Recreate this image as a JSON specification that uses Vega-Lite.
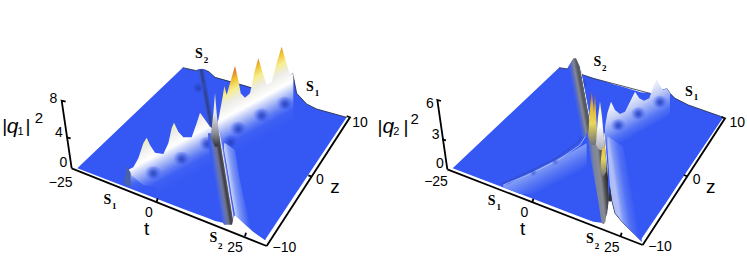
{"$schema":"https://vega.github.io/schema/vega-lite/v6.json","padding":0,"autosize":{"type":"pad"},"spacing":0,"background":"white","config":{"view":{"stroke":null}},"hconcat":[
{"width":370,"height":260,
"encoding":{"x":{"field":"x","type":"quantitative","scale":{"domain":[0,1110]},"axis":null},"y":{"field":"y","type":"quantitative","scale":{"domain":[690,-90]},"axis":null}},
"layer":[
{"data":{"values":[{"x":232,"y":415,"y2":415},{"x":548,"y":113,"y2":536},{"x":590,"y":122,"y2":552},{"x":605,"y":118,"y2":557},{"x":625,"y":124,"y2":565},{"x":645,"y":142,"y2":573},{"x":690,"y":154,"y2":583},{"x":705,"y":158,"y2":555},{"x":730,"y":165,"y2":578},{"x":760,"y":175,"y2":605},{"x":795,"y":187,"y2":630},{"x":878,"y":130,"y2":505},{"x":890,"y":190,"y2":487},{"x":920,"y":222,"y2":442},{"x":950,"y":237,"y2":397},{"x":1040,"y":262,"y2":262}]},"mark":{"type":"area","color":"#3558f4"},"encoding":{"y2":{"field":"y2"}}},
{"data":{"values":[{"p":"a","x":548,"y":113},{"p":"a","x":590,"y":122},{"p":"a","x":605,"y":118},{"p":"a","x":625,"y":124},{"p":"a","x":645,"y":142},{"p":"a","x":760,"y":175},{"p":"b","x":878,"y":130},{"p":"b","x":890,"y":190},{"p":"b","x":920,"y":222},{"p":"b","x":950,"y":237},{"p":"b","x":1040,"y":262}]},"mark":{"type":"line","color":"#22283a","strokeWidth":0.8},"encoding":{"detail":{"field":"p"}}},
{"data":{"values":[{"y":118,"x":592,"x2":616},{"y":200,"x":606,"x2":631},{"y":290,"x":623,"x2":647},{"y":325,"x":629,"x2":653}]},"mark":{"type":"area","orient":"horizontal","color":{"gradient":"linear","x1":0.2565,"y1":0.5,"x2":0.545,"y2":0.321,"stops":[{"offset":0,"color":"#3558f4"},{"offset":0.3,"color":"#3a56d4"},{"offset":0.55,"color":"#2b3f90"},{"offset":0.75,"color":"#2f4aa8"},{"offset":1,"color":"#3558f4"}]}},"encoding":{"x2":{"field":"x2"}}},
{"data":{"values":[{"x":378,"y":432,"y2":462},{"x":388,"y":418,"y2":468},{"x":400,"y":412,"y2":476},{"x":415,"y":385,"y2":482},{"x":430,"y":340,"y2":488},{"x":440,"y":323,"y2":490},{"x":450,"y":345,"y2":493},{"x":465,"y":368,"y2":495},{"x":490,"y":372,"y2":482},{"x":505,"y":340,"y2":474},{"x":515,"y":295,"y2":469},{"x":522,"y":278,"y2":465},{"x":535,"y":305,"y2":458},{"x":550,"y":322,"y2":451},{"x":575,"y":322,"y2":437},{"x":590,"y":280,"y2":429},{"x":600,"y":248,"y2":424},{"x":612,"y":265,"y2":418},{"x":630,"y":290,"y2":408},{"x":645,"y":300,"y2":400},{"x":655,"y":270,"y2":395},{"x":668,"y":200,"y2":388},{"x":673,"y":168,"y2":386},{"x":680,"y":195,"y2":382},{"x":690,"y":160,"y2":377},{"x":705,"y":108,"y2":369},{"x":715,"y":150,"y2":364},{"x":722,"y":190,"y2":360},{"x":735,"y":203,"y2":353},{"x":750,"y":190,"y2":345},{"x":765,"y":120,"y2":337},{"x":775,"y":85,"y2":332},{"x":787,"y":125,"y2":326},{"x":800,"y":165,"y2":319},{"x":815,"y":155,"y2":311},{"x":830,"y":100,"y2":303},{"x":845,"y":50,"y2":295},{"x":858,"y":95,"y2":288},{"x":870,"y":135,"y2":282},{"x":880,"y":130,"y2":277}]},"mark":{"type":"area","color":{"gradient":"linear","x1":0.5,"y1":0.1948,"x2":0.7708,"y2":0.6394,"stops":[{"offset":0,"color":"#b8402a"},{"offset":0.074,"color":"#e0702a"},{"offset":0.185,"color":"#f0c030"},{"offset":0.296,"color":"#f6ee90"},{"offset":0.407,"color":"#ecebe6"},{"offset":0.56,"color":"#ffffff"},{"offset":0.685,"color":"#a8b8f6"},{"offset":0.796,"color":"#5f7cf4"},{"offset":0.87,"color":"#3f60f4"},{"offset":1,"color":"#3558f4"}]}},"encoding":{"y2":{"field":"y2"}}},
{"data":{"values":[{"x":378,"y":420,"y2":463},{"x":400,"y":440,"y2":477},{"x":430,"y":465,"y2":490},{"x":470,"y":470,"y2":500}]},"mark":{"type":"area","color":{"gradient":"linear","x1":0,"y1":0,"x2":0,"y2":1,"stops":[{"offset":0,"color":"rgba(53,88,244,0)"},{"offset":0.5,"color":"rgba(53,88,244,0.8)"},{"offset":1,"color":"#3558f4"}]}},"encoding":{"y2":{"field":"y2"}}},
{"data":{"values":[{"x":372,"y":462,"y2":462},{"x":380,"y":408,"y2":465},{"x":392,"y":428,"y2":470}]},"mark":{"type":"area","color":"#4a62a8"},"encoding":{"y2":{"field":"y2"}}},
{"data":{"values":[{"x":460,"y":428},{"x":545,"y":385},{"x":622,"y":340},{"x":715,"y":295},{"x":785,"y":255},{"x":855,"y":220},{"x":595,"y":172},{"x":682,"y":397},{"x":705,"y":505},{"x":692,"y":335}]},"mark":{"type":"point","filled":true,"opacity":1,"size":300,"shape":"M-1,0A1,.75 0 1,0 1,0A1,.75 0 1,0 -1,0Z","color":{"gradient":"radial","x1":0.5,"y1":0.55,"r1":0,"x2":0.5,"y2":0.5,"r2":0.5,"stops":[{"offset":0,"color":"rgba(36,62,180,0.9)"},{"offset":0.35,"color":"rgba(44,72,205,0.7)"},{"offset":0.7,"color":"rgba(53,88,244,0.3)"},{"offset":1,"color":"rgba(53,88,244,0)"}]}}},
{"data":{"values":[{"y":340,"x":672,"x2":676},{"y":360,"x":672,"x2":705},{"y":440,"x":686,"x2":718},{"y":500,"x":695,"x2":730},{"y":555,"x":705,"x2":745},{"y":578,"x":730,"x2":760},{"y":605,"x":760,"x2":780},{"y":630,"x":795,"x2":797}]},"mark":{"type":"area","orient":"horizontal","color":{"gradient":"linear","x1":0.1836,"y1":0.5,"x2":0.4656,"y2":0.3965,"stops":[{"offset":0,"color":"#c0ccf8"},{"offset":0.3,"color":"#809af6"},{"offset":1,"color":"#3558f4"}]}},"encoding":{"x2":{"field":"x2"}}},
{"data":{"values":[{"y":310,"x":624,"x2":662},{"y":345,"x":626,"x2":668},{"y":430,"x":640,"x2":682},{"y":510,"x":652,"x2":694},{"y":560,"x":660,"x2":702},{"y":584,"x":672,"x2":696}]},"mark":{"type":"area","orient":"horizontal","color":{"gradient":"linear","x1":0.252,"y1":0.5,"x2":0.638,"y2":0.2788,"stops":[{"offset":0,"color":"#3558f4"},{"offset":0.3,"color":"#5c70c8"},{"offset":0.5,"color":"#70748c"},{"offset":0.72,"color":"#3c3d48"},{"offset":0.85,"color":"#55565f"},{"offset":0.92,"color":"#e8e8ee"},{"offset":1,"color":"#7088f0"}]}},"encoding":{"x2":{"field":"x2"}}},
{"data":{"values":[{"x":632,"y":320,"y2":320},{"x":640,"y":250,"y2":340},{"x":645,"y":188,"y2":350},{"x":650,"y":250,"y2":350},{"x":658,"y":320,"y2":345}]},"mark":{"type":"area","color":{"gradient":"linear","x1":0,"y1":0,"x2":0,"y2":1,"stops":[{"offset":0,"color":"#e8e4a8"},{"offset":0.4,"color":"#e8e8e8"},{"offset":0.75,"color":"#8a8c98"},{"offset":1,"color":"#30323c"}]}},"encoding":{"y2":{"field":"y2"}}},
{"data":{"values":[{"p":"z","x":215,"y":415},{"p":"z","x":185,"y":212},{"p":"z","x":197,"y":215},{"p":"m","x":200,"y":322},{"p":"m","x":212,"y":325},{"p":"t","x":215,"y":415},{"p":"t","x":800,"y":648},{"p":"r","x":800,"y":648},{"p":"r","x":1050,"y":262},{"p":"r","x":1040,"y":258},{"p":"a","x":470,"y":516},{"p":"a","x":473,"y":505},{"p":"b","x":735,"y":619},{"p":"b","x":738,"y":608},{"p":"c","x":935,"y":440},{"p":"c","x":925,"y":436}]},"mark":{"type":"line","color":"#000000","strokeWidth":1.8},"encoding":{"detail":{"field":"p"},"order":{"field":"o"}}},
{"data":{"values":[{"x":160,"y":208,"s":"8"},{"x":177,"y":310,"s":"4"},{"x":190,"y":400,"s":"0"},{"x":182,"y":458,"s":"−25"},{"x":447,"y":550,"s":"0"},{"x":705,"y":655,"s":"25"},{"x":853,"y":655,"s":"−10"},{"x":960,"y":450,"s":"0"},{"x":1080,"y":280,"s":"10"}]},"mark":{"type":"text","font":"Liberation Sans","fontSize":14,"color":"#000"},"encoding":{"text":{"field":"s"}}},
{"data":{"values":[{"x":117,"y":265,"s":"2"}]},"mark":{"type":"text","font":"Liberation Sans","fontSize":15,"color":"#000"},"encoding":{"text":{"field":"s"}}},
{"data":{"values":[{"x":440,"y":598,"s":"t"},{"x":1005,"y":472,"s":"z"},{"x":14,"y":287,"s":"|"},{"x":84,"y":287,"s":"|"}]},"mark":{"type":"text","font":"Liberation Sans","fontSize":19,"color":"#000"},"encoding":{"text":{"field":"s"}}},
{"data":{"values":[{"x":38,"y":290,"s":"q"}]},"mark":{"type":"text","font":"Liberation Sans","fontStyle":"italic","fontSize":21,"color":"#000"},"encoding":{"text":{"field":"s"}}},
{"data":{"values":[{"x":62,"y":305,"s":"1"}]},"mark":{"type":"text","font":"Liberation Sans","fontSize":11,"color":"#000"},"encoding":{"text":{"field":"s"}}},
{"data":{"values":[{"x":322,"y":510,"s":"S"},{"x":597,"y":73,"s":"S"},{"x":930,"y":172,"s":"S"},{"x":640,"y":625,"s":"S"}]},"mark":{"type":"text","font":"Liberation Serif","fontWeight":"bold","fontSize":14,"color":"#000"},"encoding":{"text":{"field":"s"}}},
{"data":{"values":[{"x":343,"y":527,"s":"1"},{"x":618,"y":90,"s":"2"},{"x":951,"y":189,"s":"1"},{"x":661,"y":648,"s":"2"}]},"mark":{"type":"text","font":"Liberation Serif","fontWeight":"bold","fontSize":9,"color":"#000"},"encoding":{"text":{"field":"s"}}}
]},
{"width":377,"height":260,
"encoding":{"x":{"field":"x","type":"quantitative","scale":{"domain":[0,1131]},"axis":null},"y":{"field":"y","type":"quantitative","scale":{"domain":[690,-90]},"axis":null}},
"layer":[
{"data":{"values":[{"x":248,"y":415,"y2":415},{"x":567,"y":113,"y2":536},{"x":600,"y":118,"y2":549},{"x":640,"y":135,"y2":564},{"x":670,"y":145,"y2":575},{"x":699,"y":153,"y2":579},{"x":710,"y":156,"y2":550},{"x":715,"y":158,"y2":510},{"x":720,"y":159,"y2":470},{"x":725,"y":161,"y2":510},{"x":735,"y":164,"y2":550},{"x":760,"y":171,"y2":580},{"x":812,"y":187,"y2":630},{"x":840,"y":190,"y2":589},{"x":890,"y":175,"y2":515},{"x":900,"y":190,"y2":500},{"x":915,"y":205,"y2":477},{"x":955,"y":225,"y2":418},{"x":1060,"y":262,"y2":262}]},"mark":{"type":"area","color":"#3558f4"},"encoding":{"y2":{"field":"y2"}}},
{"data":{"values":[{"p":"a","x":567,"y":113},{"p":"a","x":600,"y":118},{"p":"a","x":640,"y":135},{"p":"a","x":670,"y":145},{"p":"a","x":840,"y":190},{"p":"b","x":890,"y":175},{"p":"b","x":900,"y":190},{"p":"b","x":915,"y":205},{"p":"b","x":955,"y":225},{"p":"b","x":1060,"y":262},{"p":"c","x":699,"y":579},{"p":"c","x":710,"y":550},{"p":"c","x":715,"y":510},{"p":"c","x":720,"y":470},{"p":"c","x":725,"y":510},{"p":"c","x":735,"y":550},{"p":"c","x":760,"y":580},{"p":"c","x":812,"y":630}]},"mark":{"type":"line","color":"#22283a","strokeWidth":0.8},"encoding":{"detail":{"field":"p"}}},
{"data":{"values":[{"x":400,"y":465,"y2":472},{"x":415,"y":462,"y2":478},{"x":450,"y":445,"y2":492},{"x":500,"y":420,"y2":492},{"x":550,"y":394,"y2":465},{"x":600,"y":368,"y2":440},{"x":650,"y":340,"y2":412}]},"mark":{"type":"area","color":{"gradient":"linear","x1":0.5,"y1":0.446,"x2":0.7275,"y2":0.712,"stops":[{"offset":0,"color":"#7f9af6"},{"offset":0.5,"color":"#5676f4"},{"offset":1,"color":"#3558f4"}]}},"encoding":{"y2":{"field":"y2"}}},
{"data":{"values":[{"p":"a","x":395,"y":462},{"p":"a","x":470,"y":428},{"p":"a","x":560,"y":383},{"p":"a","x":625,"y":335},{"p":"a","x":648,"y":300}]},"mark":{"type":"line","color":"#3450c0","strokeWidth":1.2},"encoding":{"detail":{"field":"p"}}},
{"data":{"values":[{"p":"a","x":400,"y":465},{"p":"a","x":470,"y":436},{"p":"a","x":560,"y":393},{"p":"a","x":630,"y":345},{"p":"a","x":652,"y":310}]},"mark":{"type":"line","color":"#b8c4f4","strokeWidth":0.8},"encoding":{"detail":{"field":"p"}}},
{"data":{"values":[{"x":705,"y":290,"y2":367},{"x":712,"y":250,"y2":363},{"x":723,"y":215,"y2":357},{"x":735,"y":240,"y2":351},{"x":750,"y":252,"y2":342},{"x":765,"y":245,"y2":334},{"x":780,"y":215,"y2":325},{"x":795,"y":185,"y2":317},{"x":808,"y":205,"y2":310},{"x":822,"y":212,"y2":302},{"x":838,"y":205,"y2":293},{"x":850,"y":170,"y2":286},{"x":860,"y":148,"y2":281},{"x":872,"y":170,"y2":274},{"x":880,"y":180,"y2":269},{"x":890,"y":175,"y2":264},{"x":900,"y":190,"y2":258}]},"mark":{"type":"area","color":{"gradient":"linear","x1":0.5,"y1":0.0676,"x2":0.7735,"y2":0.6162,"stops":[{"offset":0,"color":"#f6f7fc"},{"offset":0.2,"color":"#e8ecfa"},{"offset":0.4,"color":"#c4cff7"},{"offset":0.6,"color":"#8ea3f6"},{"offset":0.8,"color":"#5575f4"},{"offset":1,"color":"#3558f4"}]}},"encoding":{"y2":{"field":"y2"}}},
{"data":{"values":[{"x":745,"y":285},{"x":805,"y":250},{"x":870,"y":215},{"x":638,"y":160}]},"mark":{"type":"point","filled":true,"opacity":1,"size":240,"shape":"M-1,0A1,.75 0 1,0 1,0A1,.75 0 1,0 -1,0Z","color":{"gradient":"radial","x1":0.5,"y1":0.55,"r1":0,"x2":0.5,"y2":0.5,"r2":0.5,"stops":[{"offset":0,"color":"rgba(36,62,180,0.9)"},{"offset":0.35,"color":"rgba(44,72,205,0.7)"},{"offset":0.7,"color":"rgba(53,88,244,0.3)"},{"offset":1,"color":"rgba(53,88,244,0)"}]}}},
{"data":{"values":[{"x":490,"y":428},{"x":555,"y":395}]},"mark":{"type":"point","filled":true,"opacity":1,"size":70,"shape":"M-1,0A1,.75 0 1,0 1,0A1,.75 0 1,0 -1,0Z","color":{"gradient":"radial","x1":0.5,"y1":0.5,"r1":0,"x2":0.5,"y2":0.5,"r2":0.5,"stops":[{"offset":0,"color":"rgba(36,62,180,0.6)"},{"offset":1,"color":"rgba(53,88,244,0)"}]}}},
{"data":{"values":[{"y":320,"x":712,"x2":716},{"y":350,"x":712,"x2":760},{"y":470,"x":720,"x2":782},{"y":510,"x":726,"x2":790},{"y":550,"x":736,"x2":800},{"y":580,"x":760,"x2":808},{"y":635,"x":815,"x2":816}]},"mark":{"type":"area","orient":"horizontal","color":{"gradient":"linear","x1":0.235,"y1":0.5,"x2":0.631,"y2":0.314,"stops":[{"offset":0,"color":"#b0bef8"},{"offset":0.2,"color":"#7f98f6"},{"offset":0.55,"color":"#5170f4"},{"offset":1,"color":"#3558f4"}]}},"encoding":{"x2":{"field":"x2"}}},
{"data":{"values":[{"y":85,"x":610,"x2":618},{"y":115,"x":592,"x2":632},{"y":160,"x":600,"x2":641},{"y":240,"x":615,"x2":657},{"y":320,"x":631,"x2":673}]},"mark":{"type":"area","orient":"horizontal","color":{"gradient":"linear","x1":0.2547,"y1":0.5,"x2":0.6352,"y2":0.2974,"stops":[{"offset":0,"color":"#3558f4"},{"offset":0.24,"color":"#5a6cc0"},{"offset":0.43,"color":"#858894"},{"offset":0.67,"color":"#54565f"},{"offset":0.83,"color":"#60626a"},{"offset":0.88,"color":"#eeeeee"},{"offset":0.93,"color":"#6f86e6"},{"offset":1,"color":"#3558f4"}]}},"encoding":{"x2":{"field":"x2"}}},
{"data":{"values":[{"y":310,"x":648,"x2":705},{"y":350,"x":655,"x2":708},{"y":430,"x":670,"x2":714},{"y":520,"x":686,"x2":714},{"y":575,"x":694,"x2":706},{"y":582,"x":698,"x2":702}]},"mark":{"type":"area","orient":"horizontal","color":{"gradient":"linear","x1":0.2356,"y1":0.5,"x2":0.9396,"y2":0.181,"stops":[{"offset":0,"color":"#3558f4"},{"offset":0.25,"color":"#7b84a0"},{"offset":0.5,"color":"#8a8c90"},{"offset":0.72,"color":"#45464e"},{"offset":0.88,"color":"#2a2b30"},{"offset":0.95,"color":"#eeeeee"},{"offset":1,"color":"#8098f0"}]}},"encoding":{"x2":{"field":"x2"}}},
{"data":{"values":[{"p":"a","x":655,"y":310,"y2":320},{"p":"a","x":660,"y":235,"y2":335},{"p":"a","x":665,"y":183,"y2":345},{"p":"a","x":671,"y":235,"y2":345},{"p":"a","x":676,"y":320,"y2":345},{"p":"b","x":669,"y":300,"y2":320},{"p":"b","x":675,"y":190,"y2":340},{"p":"b","x":682,"y":320,"y2":340},{"p":"c","x":692,"y":400,"y2":430},{"p":"c","x":700,"y":303,"y2":440},{"p":"c","x":709,"y":400,"y2":425}]},"mark":{"type":"area","color":{"gradient":"linear","x1":0,"y1":0,"x2":0,"y2":1,"stops":[{"offset":0,"color":"#b8482a"},{"offset":0.25,"color":"#e0b030"},{"offset":0.6,"color":"#e8d858"},{"offset":1,"color":"#70727a"}]}},"encoding":{"y2":{"field":"y2"},"detail":{"field":"p"}}},
{"data":{"values":[{"x":678,"y":340,"y2":345},{"x":684,"y":260,"y2":355},{"x":690,"y":215,"y2":360},{"x":696,"y":260,"y2":360},{"x":703,"y":340,"y2":345}]},"mark":{"type":"area","color":{"gradient":"linear","x1":0,"y1":0,"x2":0,"y2":1,"stops":[{"offset":0,"color":"#f6f2b8"},{"offset":0.5,"color":"#ffffff"},{"offset":1,"color":"#a8aab8"}]}},"encoding":{"y2":{"field":"y2"}}},
{"data":{"values":[{"x":715,"y":512,"y2":512},{"x":720,"y":470,"y2":515},{"x":726,"y":512,"y2":512}]},"mark":{"type":"area","color":"#30323a"},"encoding":{"y2":{"field":"y2"}}},
{"data":{"values":[{"p":"z","x":232,"y":418},{"p":"z","x":202,"y":210},{"p":"z","x":213,"y":213},{"p":"m","x":217,"y":328},{"p":"m","x":228,"y":331},{"p":"t","x":232,"y":418},{"p":"t","x":818,"y":645},{"p":"r","x":818,"y":645},{"p":"r","x":1065,"y":265},{"p":"r","x":1055,"y":261},{"p":"a","x":487,"y":517},{"p":"a","x":490,"y":506},{"p":"b","x":752,"y":619},{"p":"b","x":755,"y":608},{"p":"c","x":952,"y":439},{"p":"c","x":942,"y":435}]},"mark":{"type":"line","color":"#000000","strokeWidth":1.8},"encoding":{"detail":{"field":"p"},"order":{"field":"o"}}},
{"data":{"values":[{"x":180,"y":222,"s":"6"},{"x":197,"y":315,"s":"3"},{"x":210,"y":403,"s":"0"},{"x":198,"y":455,"s":"−25"},{"x":463,"y":550,"s":"0"},{"x":725,"y":655,"s":"25"},{"x":870,"y":652,"s":"−10"},{"x":980,"y":450,"s":"0"},{"x":1102,"y":280,"s":"10"}]},"mark":{"type":"text","font":"Liberation Sans","fontSize":14,"color":"#000"},"encoding":{"text":{"field":"s"}}},
{"data":{"values":[{"x":134,"y":268,"s":"2"}]},"mark":{"type":"text","font":"Liberation Sans","fontSize":15,"color":"#000"},"encoding":{"text":{"field":"s"}}},
{"data":{"values":[{"x":458,"y":598,"s":"t"},{"x":1022,"y":472,"s":"z"},{"x":30,"y":290,"s":"|"},{"x":108,"y":290,"s":"|"}]},"mark":{"type":"text","font":"Liberation Sans","fontSize":19,"color":"#000"},"encoding":{"text":{"field":"s"}}},
{"data":{"values":[{"x":55,"y":292,"s":"q"}]},"mark":{"type":"text","font":"Liberation Sans","fontStyle":"italic","fontSize":21,"color":"#000"},"encoding":{"text":{"field":"s"}}},
{"data":{"values":[{"x":79,"y":305,"s":"2"}]},"mark":{"type":"text","font":"Liberation Sans","fontSize":11,"color":"#000"},"encoding":{"text":{"field":"s"}}},
{"data":{"values":[{"x":365,"y":513,"s":"S"},{"x":682,"y":97,"s":"S"},{"x":957,"y":185,"s":"S"},{"x":660,"y":628,"s":"S"}]},"mark":{"type":"text","font":"Liberation Serif","fontWeight":"bold","fontSize":14,"color":"#000"},"encoding":{"text":{"field":"s"}}},
{"data":{"values":[{"x":386,"y":531,"s":"1"},{"x":703,"y":115,"s":"2"},{"x":978,"y":202,"s":"1"},{"x":681,"y":648,"s":"2"}]},"mark":{"type":"text","font":"Liberation Serif","fontWeight":"bold","fontSize":9,"color":"#000"},"encoding":{"text":{"field":"s"}}}
]}
]}
